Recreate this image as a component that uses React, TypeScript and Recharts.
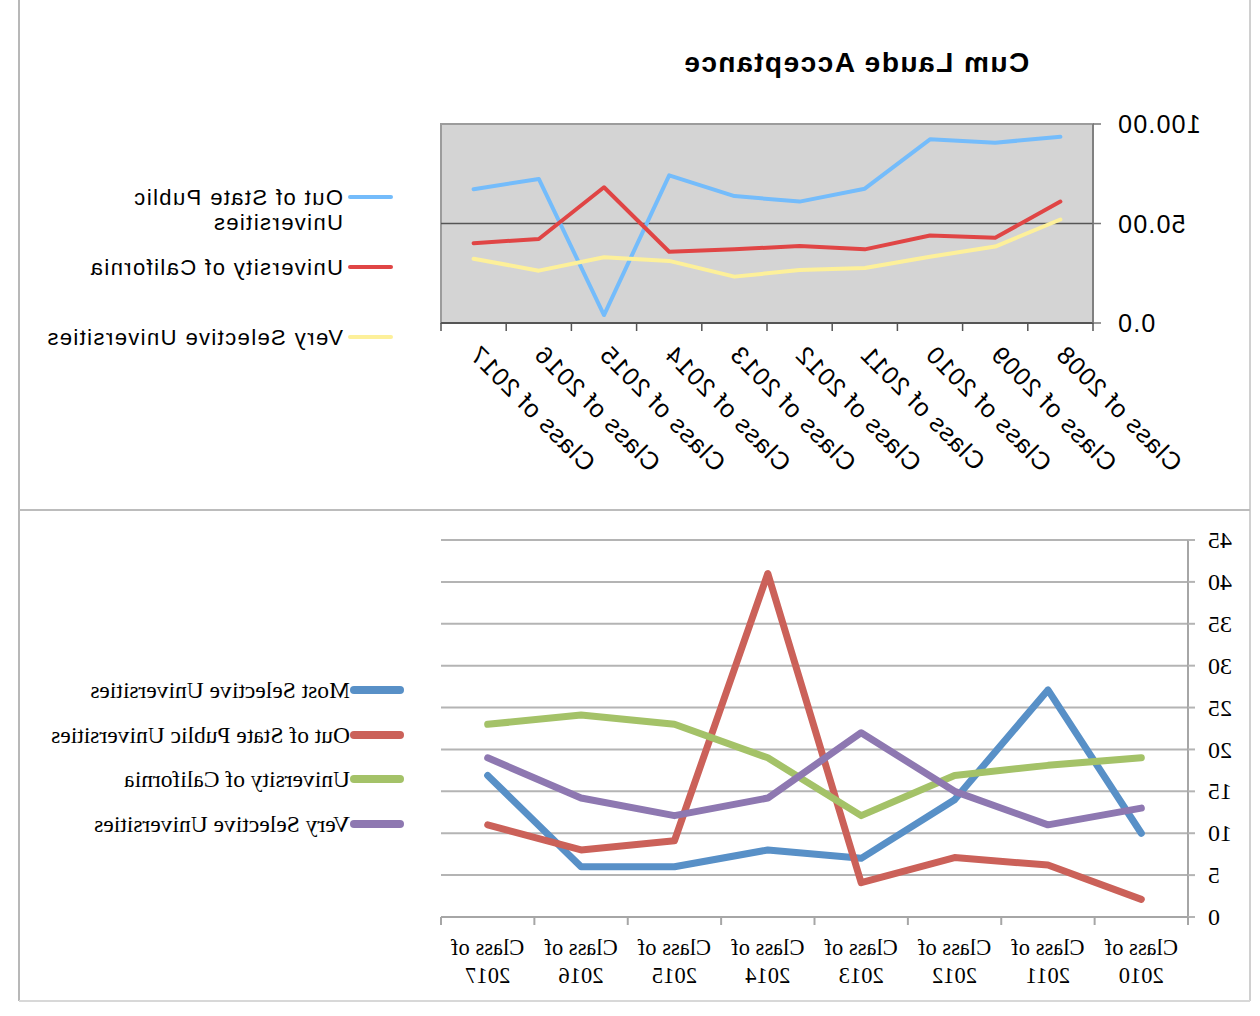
import React from 'react';
import { LineChart, Line, XAxis, YAxis, CartesianGrid, ReferenceArea, ReferenceLine } from 'recharts';

// ---------- Top chart data ----------
const TOP_TITLE = 'Cum Laude Acceptance';
const TOP_CATEGORIES = [
  'Class of 2008', 'Class of 2009', 'Class of 2010', 'Class of 2011', 'Class of 2012',
  'Class of 2013', 'Class of 2014', 'Class of 2015', 'Class of 2016', 'Class of 2017',
];
const TOP_OUT_OF_STATE = [93.6, 90.6, 92.3, 67.5, 61.0, 63.8, 74.2, 4.0, 72.4, 67.2];
const TOP_UC = [61.0, 42.8, 44.0, 37.0, 38.7, 37.0, 35.8, 68.2, 42.2, 40.1];
const TOP_VERY_SELECTIVE = [52.0, 38.4, 33.3, 27.6, 26.6, 23.3, 31.2, 33.0, 26.3, 32.3];
const TOP_Y_TICKS = [0, 50, 100];
const TOP_Y_LABELS = ['0.0', '50.00', '100.00'];
const TOP_SERIES_NAMES = ['Out of State Public Universities', 'University of California', 'Very Selective Universities'];
const TOP_COLORS = ['#74bcfb', '#e04545', '#fdf09a'];

// ---------- Bottom chart data ----------
const BOTTOM_CATEGORIES = [
  'Class of 2010', 'Class of 2011', 'Class of 2012', 'Class of 2013',
  'Class of 2014', 'Class of 2015', 'Class of 2016', 'Class of 2017',
];
const BOTTOM_MOST_SELECTIVE = [10.0, 27.1, 14.0, 7.0, 8.0, 6.0, 6.0, 16.9];
const BOTTOM_OUT_OF_STATE = [2.1, 6.2, 7.1, 4.1, 41.0, 9.1, 8.0, 11.0];
const BOTTOM_UC = [19.0, 18.1, 16.9, 12.1, 19.0, 23.0, 24.1, 23.0];
const BOTTOM_VERY_SELECTIVE = [13.0, 11.0, 15.0, 22.0, 14.2, 12.1, 14.2, 19.0];
const BOTTOM_Y_TICKS = [0, 5, 10, 15, 20, 25, 30, 35, 40, 45];
const BOTTOM_SERIES_NAMES = [
  'Most Selective Universities', 'Out of State Public Universities',
  'University of California', 'Very Selective Universities',
];
const BOTTOM_COLORS = ['#5890c7', '#cb6159', '#a4c268', '#8e78b1'];

const topData = TOP_CATEGORIES.map((cat, i) => ({
  cat,
  oos: TOP_OUT_OF_STATE[i],
  uc: TOP_UC[i],
  vs: TOP_VERY_SELECTIVE[i],
}));

const bottomData = BOTTOM_CATEGORIES.map((cat, i) => ({
  cat,
  most: BOTTOM_MOST_SELECTIVE[i],
  oos: BOTTOM_OUT_OF_STATE[i],
  uc: BOTTOM_UC[i],
  vs: BOTTOM_VERY_SELECTIVE[i],
}));

const SANS = '"Liberation Sans", Arial, sans-serif';
const SERIF = '"Liberation Serif", "Times New Roman", serif';

const TOP_PLOT_LEFT = 167;
const TOP_PLOT_RIGHT = 819;
const TOP_BAND = (TOP_PLOT_RIGHT - TOP_PLOT_LEFT) / TOP_CATEGORIES.length;
const BOT_PLOT_LEFT = 72;
const BOT_PLOT_RIGHT = 819;
const BOT_BAND = (BOT_PLOT_RIGHT - BOT_PLOT_LEFT) / BOTTOM_CATEGORIES.length;

function TopXTick(props: any) {
  const { x, y, payload, index } = props;
  const half = TOP_BAND / 2;
  const ax = x + 6;
  const ay = y + 33;
  return (
    <g>
      <line x1={x - half} x2={x - half} y1={y} y2={y + 8} stroke="#555" strokeWidth={1.5} />
      {index === TOP_CATEGORIES.length - 1 && (
        <line x1={x + half} x2={x + half} y1={y} y2={y + 8} stroke="#555" strokeWidth={1.5} />
      )}
      <text
        x={ax}
        y={ay}
        textAnchor="end"
        transform={`rotate(-45 ${ax} ${ay})`}
        fontFamily={SANS}
        fontSize={25}
        letterSpacing={1}
        fill="#000"
      >
        {payload.value}
      </text>
    </g>
  );
}

function TopYTick(props: any) {
  const { x, y, payload } = props;
  const idx = TOP_Y_TICKS.indexOf(payload.value);
  return (
    <text x={x} y={y} dy="0.36em" textAnchor="end" fontFamily={SANS} fontSize={25} letterSpacing={1.2} fill="#000">
      {TOP_Y_LABELS[idx]}
    </text>
  );
}

function BottomXTick(props: any) {
  const { x, y, payload, index } = props;
  const half = BOT_BAND / 2;
  const parts = String(payload.value).split(' ');
  const first = parts.slice(0, 2).join(' ');
  const second = parts.slice(2).join(' ');
  return (
    <g>
      <line x1={x - half} x2={x - half} y1={y} y2={y + 8} stroke="#a6a6a6" strokeWidth={2} />
      {index === BOTTOM_CATEGORIES.length - 1 && (
        <line x1={x + half} x2={x + half} y1={y} y2={y + 8} stroke="#a6a6a6" strokeWidth={2} />
      )}
      <text textAnchor="middle" fontFamily={SERIF} fontSize={22.5} fill="#000">
        <tspan x={x} y={y + 38}>{first}</tspan>
        <tspan x={x} y={y + 66}>{second}</tspan>
      </text>
    </g>
  );
}

function BottomYTick(props: any) {
  const { x, y, payload } = props;
  return (
    <text x={x} y={y} dy="0.34em" textAnchor="end" fontFamily={SERIF} fontSize={24} fill="#000">
      {payload.value}
    </text>
  );
}

const abs = (style: React.CSSProperties): React.CSSProperties => ({ position: 'absolute', ...style });

export default function App() {
  return (
    <div style={abs({ left: 0, top: 0, width: 1260, height: 1016, background: '#fff', transform: 'scaleX(-1)', transformOrigin: '50% 50%', overflow: 'hidden' })}>
      {/* frame lines */}
      <div style={abs({ left: 1240, top: 0, width: 2, height: 1001, background: '#b8b8b8' })} />
      <div style={abs({ left: 9, top: 0, width: 2, height: 1001, background: '#d0d0d0' })} />
      <div style={abs({ left: 10, top: 509, width: 1231, height: 2, background: '#bcbcbc' })} />
      <div style={abs({ left: 10, top: 1000, width: 1231, height: 1.5, background: '#d8d8d8' })} />

      {/* top chart */}
      <div style={abs({ left: 0, top: 0, width: 1260, height: 510 })}>
        <LineChart width={1260} height={510} data={topData} margin={{ top: 124, right: 441, bottom: 37, left: 67 }}>
          <ReferenceArea y1={0} y2={100} fill="#d4d4d4" fillOpacity={1} stroke="#9c9c9c" strokeWidth={2} />
          <ReferenceLine y={50} stroke="#555" strokeWidth={1.5} />
          <XAxis
            dataKey="cat"
            scale="band"
            height={150}
            interval={0}
            tickSize={0}
            tickMargin={0}
            tickLine={false}
            axisLine={{ stroke: '#555', strokeWidth: 2 }}
            tick={<TopXTick />}
          />
          <YAxis
            width={100}
            domain={[0, 100]}
            ticks={TOP_Y_TICKS}
            interval={0}
            tickSize={8}
            tickMargin={16}
            axisLine={{ stroke: '#777', strokeWidth: 1.5 }}
            tickLine={{ stroke: '#777', strokeWidth: 1.5 }}
            tick={<TopYTick />}
          />
          <Line dataKey="oos" name={TOP_SERIES_NAMES[0]} stroke={TOP_COLORS[0]} strokeWidth={4} dot={false} isAnimationActive={false} strokeLinejoin="round" strokeLinecap="round" type="linear" />
          <Line dataKey="uc" name={TOP_SERIES_NAMES[1]} stroke={TOP_COLORS[1]} strokeWidth={4} dot={false} isAnimationActive={false} strokeLinejoin="round" strokeLinecap="round" type="linear" />
          <Line dataKey="vs" name={TOP_SERIES_NAMES[2]} stroke={TOP_COLORS[2]} strokeWidth={4} dot={false} isAnimationActive={false} strokeLinejoin="round" strokeLinecap="round" type="linear" />
        </LineChart>
      </div>

      {/* top title */}
      <div style={abs({ left: 154, top: 46, width: 500, textAlign: 'center', fontFamily: SANS, fontWeight: 'bold', fontSize: 28, letterSpacing: 1.5, lineHeight: '34px', color: '#000' })}>
        {TOP_TITLE}
      </div>

      {/* top legend */}
      {TOP_SERIES_NAMES.map((name, i) => {
        const centers = [197, 267, 337];
        return (
          <div key={name}>
            <div style={abs({ left: 867, top: centers[i] - 2, width: 45, height: 4, background: TOP_COLORS[i], borderRadius: 2 })} />
            <div style={abs({ left: 917, top: centers[i] - 12.5, width: 320, fontFamily: SANS, fontSize: 22, letterSpacing: 1.4, lineHeight: '25px', color: '#000' })}>
              {name}
            </div>
          </div>
        );
      })}

      {/* bottom chart */}
      <div style={abs({ left: 0, top: 510, width: 1260, height: 506 })}>
        <LineChart width={1260} height={506} data={bottomData} margin={{ top: 30, right: 441, bottom: 9, left: 12 }}>
          <CartesianGrid horizontal vertical={false} stroke="#b4b4b4" strokeWidth={2} />
          <XAxis
            dataKey="cat"
            scale="band"
            height={90}
            interval={0}
            tickSize={0}
            tickMargin={0}
            tickLine={false}
            axisLine={{ stroke: '#a6a6a6', strokeWidth: 2 }}
            tick={<BottomXTick />}
          />
          <YAxis
            width={60}
            domain={[0, 45]}
            ticks={BOTTOM_Y_TICKS}
            interval={0}
            tickSize={7}
            tickMargin={13}
            axisLine={{ stroke: '#a6a6a6', strokeWidth: 2 }}
            tickLine={{ stroke: '#b4b4b4', strokeWidth: 2 }}
            tick={<BottomYTick />}
          />
          <Line dataKey="most" name={BOTTOM_SERIES_NAMES[0]} stroke={BOTTOM_COLORS[0]} strokeWidth={7} dot={false} isAnimationActive={false} strokeLinejoin="round" strokeLinecap="round" type="linear" />
          <Line dataKey="oos" name={BOTTOM_SERIES_NAMES[1]} stroke={BOTTOM_COLORS[1]} strokeWidth={7} dot={false} isAnimationActive={false} strokeLinejoin="round" strokeLinecap="round" type="linear" />
          <Line dataKey="uc" name={BOTTOM_SERIES_NAMES[2]} stroke={BOTTOM_COLORS[2]} strokeWidth={7} dot={false} isAnimationActive={false} strokeLinejoin="round" strokeLinecap="round" type="linear" />
          <Line dataKey="vs" name={BOTTOM_SERIES_NAMES[3]} stroke={BOTTOM_COLORS[3]} strokeWidth={7} dot={false} isAnimationActive={false} strokeLinejoin="round" strokeLinecap="round" type="linear" />
        </LineChart>
      </div>

      {/* bottom legend */}
      {BOTTOM_SERIES_NAMES.map((name, i) => {
        const centers = [690, 735, 779, 824];
        return (
          <div key={name}>
            <div style={abs({ left: 856, top: centers[i] - 4, width: 54, height: 8, background: BOTTOM_COLORS[i], borderRadius: 4 })} />
            <div style={abs({ left: 910, top: centers[i] - 14, whiteSpace: 'nowrap', fontFamily: SERIF, fontSize: 23.5, lineHeight: '28px', color: '#000' })}>
              {name}
            </div>
          </div>
        );
      })}
    </div>
  );
}
